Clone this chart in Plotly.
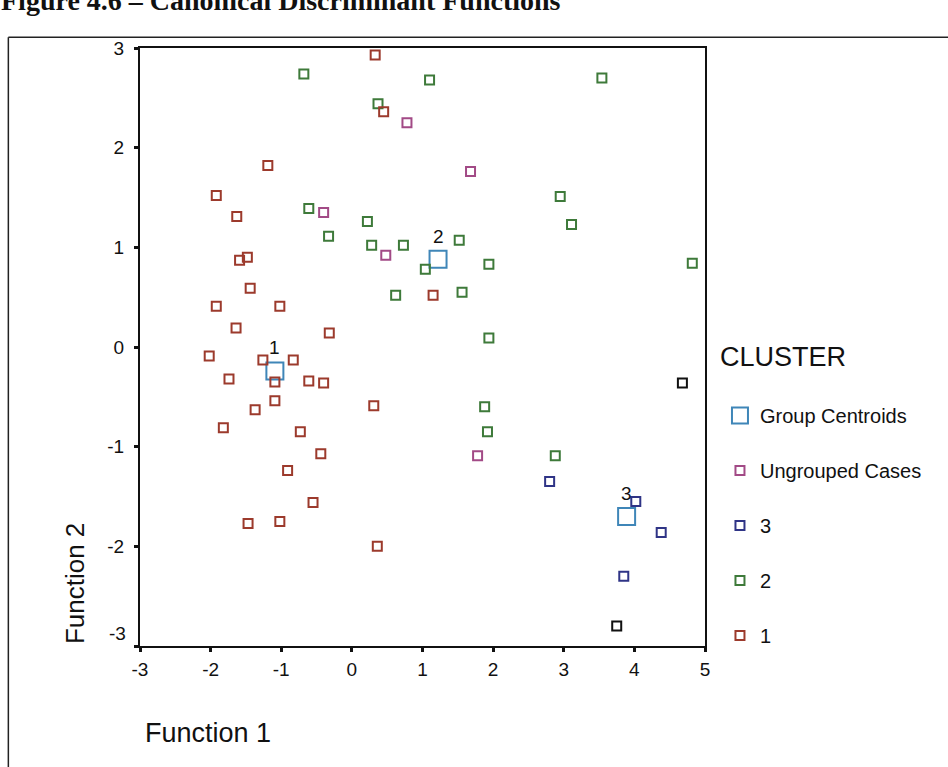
import plotly.graph_objects as go

# ---- data ----
c1_x = [0.33, 0.45, -1.19, -1.92, -1.63, -1.59, -1.48, -1.44, 1.15, -1.92, -1.02, -1.64, -0.32,
        -2.02, -1.26, -0.83, -1.74, -1.09, -0.61, -0.40, -1.09, -1.37, 0.31, -1.82, -0.73,
        -0.44, -0.91, -0.55, -1.47, -1.02, 0.36]
c1_y = [2.93, 2.36, 1.82, 1.52, 1.31, 0.87, 0.90, 0.59, 0.52, 0.41, 0.41, 0.19, 0.14,
        -0.09, -0.13, -0.13, -0.32, -0.35, -0.34, -0.36, -0.54, -0.63, -0.59, -0.81, -0.85,
        -1.07, -1.24, -1.56, -1.77, -1.75, -2.00]

c2_x = [-0.68, 1.10, 0.37, -0.61, -0.33, 0.22, 0.28, 0.73, 1.04, 0.62, 3.54, 2.95, 3.11,
        1.52, 1.94, 4.82, 1.56, 1.94, 1.88, 1.92, 2.88]
c2_y = [2.74, 2.68, 2.44, 1.39, 1.11, 1.26, 1.02, 1.02, 0.78, 0.52, 2.70, 1.51, 1.23,
        1.07, 0.83, 0.84, 0.55, 0.09, -0.60, -0.85, -1.09]

c3_x = [2.80, 4.02, 4.38, 3.85]
c3_y = [-1.35, -1.55, -1.86, -2.30]

c3_dark_x = [4.68, 3.75]
c3_dark_y = [-0.36, -2.80]

ung_x = [0.78, -0.40, 0.48, 1.68, 1.78]
ung_y = [2.25, 1.35, 0.92, 1.76, -1.09]

cent_x = [-1.09, 1.22, 3.89]
cent_y = [-0.24, 0.88, -1.70]
cent_lab = ["1", "2", "3"]

x_ticks = [-3, -2, -1, 0, 1, 2, 3, 4, 5]
y_ticks = [-3, -2, -1, 0, 1, 2, 3]

# ---- styles ----
RED = "#9c3a2c"
GREEN = "#3e7a3a"
BLUE = "#2f3486"
PURPLE = "#a24a86"
CENT = "#3f86b8"
FONT = "Liberation Sans, Arial, sans-serif"
INK = "#111111"

fig = go.Figure()

def pts(x, y, name, color, size=9, show=True, group=None):
    fig.add_trace(go.Scatter(
        x=x, y=y, mode="markers", name=name, showlegend=show,
        legendgroup=group or name,
        marker=dict(symbol="square-open", size=size, color=color, line=dict(width=2, color=color)),
        hoverinfo="x+y+name"))

pts(cent_x, cent_y, "Group Centroids", CENT, size=17)
pts(ung_x, ung_y, "Ungrouped Cases", PURPLE)
pts(c3_x, c3_y, "3", BLUE)
pts(c2_x, c2_y, "2", GREEN)
pts(c1_x, c1_y, "1", RED)
pts(c3_dark_x, c3_dark_y, "3 ", INK, show=False, group="3")

for cx, cy, lab in zip(cent_x, cent_y, cent_lab):
    fig.add_annotation(x=cx, y=cy, text=lab, showarrow=False, yshift=23,
                       font=dict(family=FONT, size=19, color=INK))

axis_common = dict(showgrid=False, zeroline=False, showline=True, linecolor=INK,
                   linewidth=2, mirror=True, ticks="outside", ticklen=4, tickwidth=3,
                   tickcolor=INK, tickfont=dict(family=FONT, size=19, color=INK))

fig.update_xaxes(range=[-3, 5], tickvals=x_ticks, ticktext=[str(v) for v in x_ticks],
                 ticklabelstandoff=1, **axis_common)
# lowest y label is drawn raised in the original (annotation below)
fig.update_yaxes(range=[-3, 3], tickvals=y_ticks,
                 ticktext=["" if v == -3 else str(v) for v in y_ticks],
                 ticklabelstandoff=6, **axis_common)
fig.add_annotation(xref="paper", yref="y", x=0, y=-3, xanchor="right", yanchor="middle",
                   xshift=-12, yshift=13, text=str(y_ticks[0]), showarrow=False,
                   font=dict(family=FONT, size=19, color=INK))

# axis titles
fig.add_annotation(xref="paper", yref="paper", x=0.006, y=-0.1455, xanchor="left", yanchor="middle",
                   text="Function 1", showarrow=False, font=dict(family=FONT, size=27, color=INK))
fig.add_annotation(xref="paper", yref="paper", x=-0.1158, y=0, xanchor="center", yanchor="bottom",
                   text="Function 2", textangle=-90, showarrow=False,
                   font=dict(family=FONT, size=26, color=INK))

# legend heading
fig.add_annotation(xref="paper", yref="paper", x=1.0225, y=0.4833, xanchor="left", yanchor="middle",
                   text="CLUSTER", showarrow=False, font=dict(family=FONT, size=27, color=INK))

# page heading, cropped at the top
fig.add_annotation(xref="paper", yref="paper", x=-0.25, y=1.08, xanchor="left", yanchor="middle",
                   text="<b>Figure 4.6 – Canonical Discriminant Functions</b>", showarrow=False,
                   font=dict(family="Liberation Serif, Times New Roman, serif", size=28, color=INK))

# outer frame
fig.add_shape(type="line", xref="paper", yref="paper", x0=-0.233, x1=1.45, y0=1.018, y1=1.018,
              line=dict(color="#222", width=1.5))
fig.add_shape(type="line", xref="paper", yref="paper", x0=-0.233, x1=-0.233, y0=1.018, y1=-0.25,
              line=dict(color="#222", width=1.5))

fig.update_layout(
    width=948, height=767,
    margin=dict(l=139.5, r=243, t=48, b=121),
    paper_bgcolor="white", plot_bgcolor="white",
    font=dict(family=FONT, color=INK),
    legend=dict(
        x=1.0265, y=0.418, xanchor="left", yanchor="top",
        traceorder="grouped", tracegroupgap=26,
        font=dict(family=FONT, size=20, color=INK),
        itemsizing="trace", bgcolor="rgba(0,0,0,0)"),
)

fig.write_html("out.html")
